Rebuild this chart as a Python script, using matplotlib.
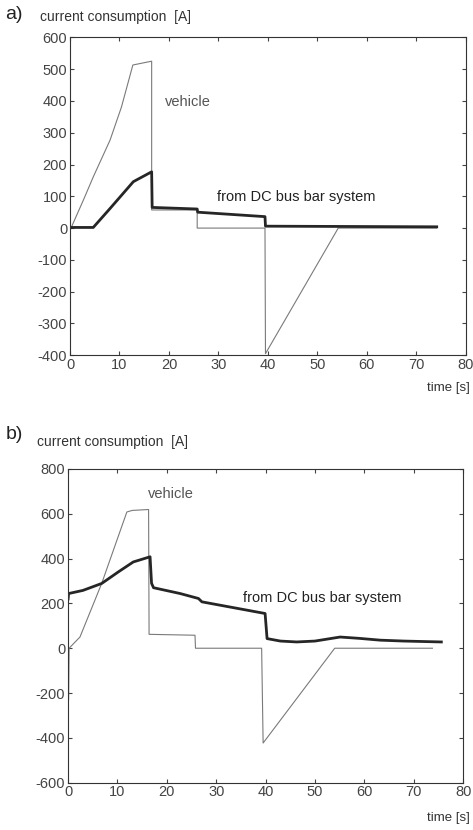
import matplotlib
matplotlib.use("Agg")
import matplotlib.pyplot as plt

plt.rcParams.update({
    'font.family': ['Liberation Sans', 'DejaVu Sans'],
    'font.size': 9,
    'axes.unicode_minus': False,
    'xtick.direction': 'in',
    'ytick.direction': 'in',
    'xtick.top': True,
    'ytick.right': True,
    'xtick.major.size': 3,
    'ytick.major.size': 3,
    'xtick.color': '#444444',
    'ytick.color': '#444444',
    'axes.edgecolor': '#333333',
})

# panel a) -- vehicle current (thin) and DC bus bar current (thick)
a_veh_t = [0, 0.2, 2.7, 4.7, 8.1, 10.4, 12.7, 16.5, 16.5, 25.7, 25.7, 39.4, 39.5, 54.2, 74.1]
a_veh_i = [0, 0, 88, 161, 277, 381, 513, 525, 57, 57, 0, 0, -395, 0, 0]
a_bus_t = [0, 0.3, 4.7, 8.0, 12.8, 16.5, 16.6, 25.7, 25.8, 39.4, 39.5, 74.1]
a_bus_i = [0, 2, 2, 60, 146, 177, 65, 60, 50, 36, 6, 4]

# panel b)
b_veh_t = [0, 0.1, 0.2, 2.4, 6.8, 11.9, 13.0, 16.3, 16.4, 25.7, 25.8, 39.2, 39.5, 54.0, 73.8]
b_veh_i = [-230, -230, 0, 50, 289, 608, 615, 619, 62, 58, 0, 0, -423, 0, 0]
b_bus_t = [0, 0.1, 3, 6.8, 10.2, 13.2, 16.6, 16.9, 17.3, 22.7, 26.4, 27.1, 39.9, 40.3, 43,
           46.3, 50, 55.1, 59, 63.2, 68, 75.6]
b_bus_i = [220, 244, 258, 289, 341, 385, 408, 290, 270, 244, 222, 207, 155, 43, 32,
           28, 32, 50, 44, 36, 32, 28]

fig = plt.figure(figsize=(4.73, 8.30), dpi=100)
ax_a = fig.add_axes([0.148, 0.572, 0.837, 0.383])
ax_b = fig.add_axes([0.144, 0.057, 0.835, 0.378])

thin = dict(color='#7a7a7a', lw=0.8)
thick = dict(color='#262626', lw=2.0)

ax_a.plot(a_veh_t, a_veh_i, **thin)
ax_a.plot(a_bus_t, a_bus_i, **thick)
ax_a.set_xlim(0, 80)
ax_a.set_ylim(-400, 600)
ax_a.set_xticks(range(0, 81, 10))
ax_a.set_yticks(range(-400, 601, 100))
ax_a.text(19.2, 396, 'vehicle', fontsize=10.5, color='#555555', va='center')
ax_a.text(29.7, 97, 'from DC bus bar system', fontsize=10.5, color='#222222', va='center')

ax_b.plot(b_veh_t, b_veh_i, **thin)
ax_b.plot(b_bus_t, b_bus_i, **thick)
ax_b.set_xlim(0, 80)
ax_b.set_ylim(-600, 800)
ax_b.set_xticks(range(0, 81, 10))
ax_b.set_yticks(range(-600, 801, 200))
ax_b.text(16.2, 688, 'vehicle', fontsize=10.5, color='#555555', va='center')
ax_b.text(35.4, 223, 'from DC bus bar system', fontsize=10.5, color='#222222', va='center')

for ax in (ax_a, ax_b):
    ax.tick_params(labelsize=10.5, pad=2)

fig.text(0.010, 0.982, 'a)', fontsize=14, va='center', color='#222222')
fig.text(0.085, 0.980, 'current consumption  [A]', fontsize=10, va='center', color='#333333')
fig.text(0.994, 0.533, 'time [s]', fontsize=9.5, ha='right', va='center', color='#333333')

fig.text(0.012, 0.476, 'b)', fontsize=14, va='center', color='#222222')
fig.text(0.078, 0.467, 'current consumption  [A]', fontsize=10, va='center', color='#333333')
fig.text(0.994, 0.015, 'time [s]', fontsize=9.5, ha='right', va='center', color='#333333')

fig.savefig('out.png', dpi=100, facecolor='white')
